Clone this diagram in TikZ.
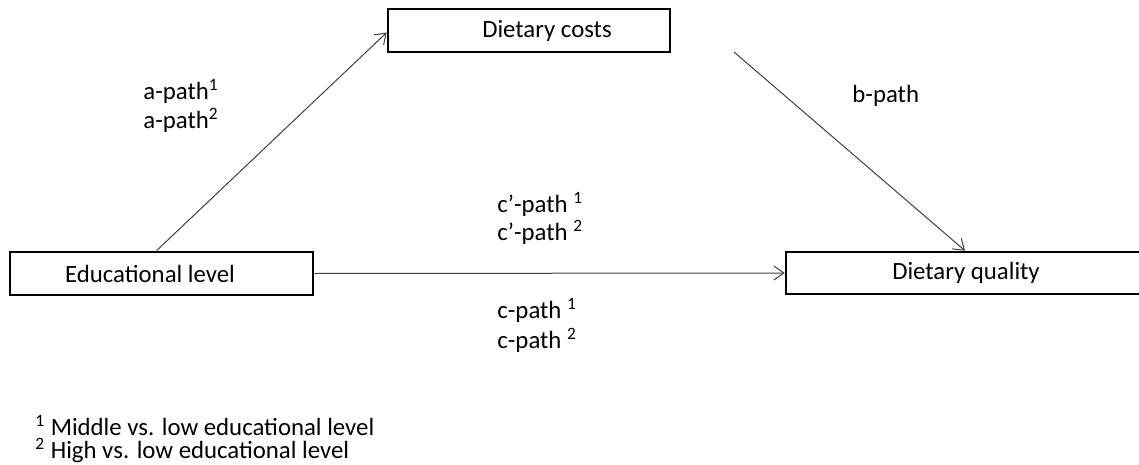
\documentclass[tikz,border=0pt]{standalone}
\usepackage{fontspec}
\setmainfont{Carlito}
\usetikzlibrary{arrows.meta}
\begin{document}
\begin{tikzpicture}[x=0.5pt,y=-0.5pt,
  box/.style={draw=black,line width=1.3pt,inner sep=0pt,fill=white},
  conn/.style={draw=black!75,line width=0.5pt,-{Straight Barb[length=5pt,width=7pt]}},
  lbl/.style={anchor=base west,inner sep=0pt,font=\fontsize{12.4pt}{14pt}\selectfont},
  boxtext/.style={inner sep=0pt,font=\fontsize{12.4pt}{14pt}\selectfont}]
\useasboundingbox (0,0) rectangle (1139,465);
% boxes
\node[box,minimum width=141pt,minimum height=21.5pt] (dc) at (529,30.5) {};
\node[boxtext] (dct) at (547,31) {Dietary costs};
\node[box,minimum width=151.5pt,minimum height=21.5pt] (ed) at (161.5,273.5) {};
\node[boxtext] (edt) at (150,273.5) {Educational level};
\node[box,minimum width=180pt,minimum height=21pt] (dq) at (966,273) {};
\node[boxtext] (dqt) at (966,273) {Dietary quality};
% connectors
\coordinate (bs) at (734,52);
\draw[conn] ([xshift=-2.5pt]ed.north) -- ([yshift=-1pt]dc.west);
\draw[conn] (bs) -- ([xshift=-0.5pt]dq.north);
\draw[conn] (ed.east) -- (dq.west);
% labels
\node[lbl] (a1) at (143,99) {a-path\textsuperscript{1}};
\node[lbl] (a2) at (143,128) {a-path\textsuperscript{2}};
\node[lbl] (b) at (852,103) {b-path};
\node[lbl] (cp1) at (497,212) {c’-path \textsuperscript{1}};
\node[lbl] (cp2) at (497,240) {c’-path \textsuperscript{2}};
\node[lbl] (c1) at (497,318) {c-path \textsuperscript{1}};
\node[lbl] (c2) at (497,348) {c-path \textsuperscript{2}};
\node[lbl,align=left,font=\fontsize{12.4pt}{11.5pt}\selectfont] (fn) at (35,458)
  {\textsuperscript{1} Middle vs. low educational level\\\textsuperscript{2} High vs. low educational level};
\end{tikzpicture}
\end{document}
